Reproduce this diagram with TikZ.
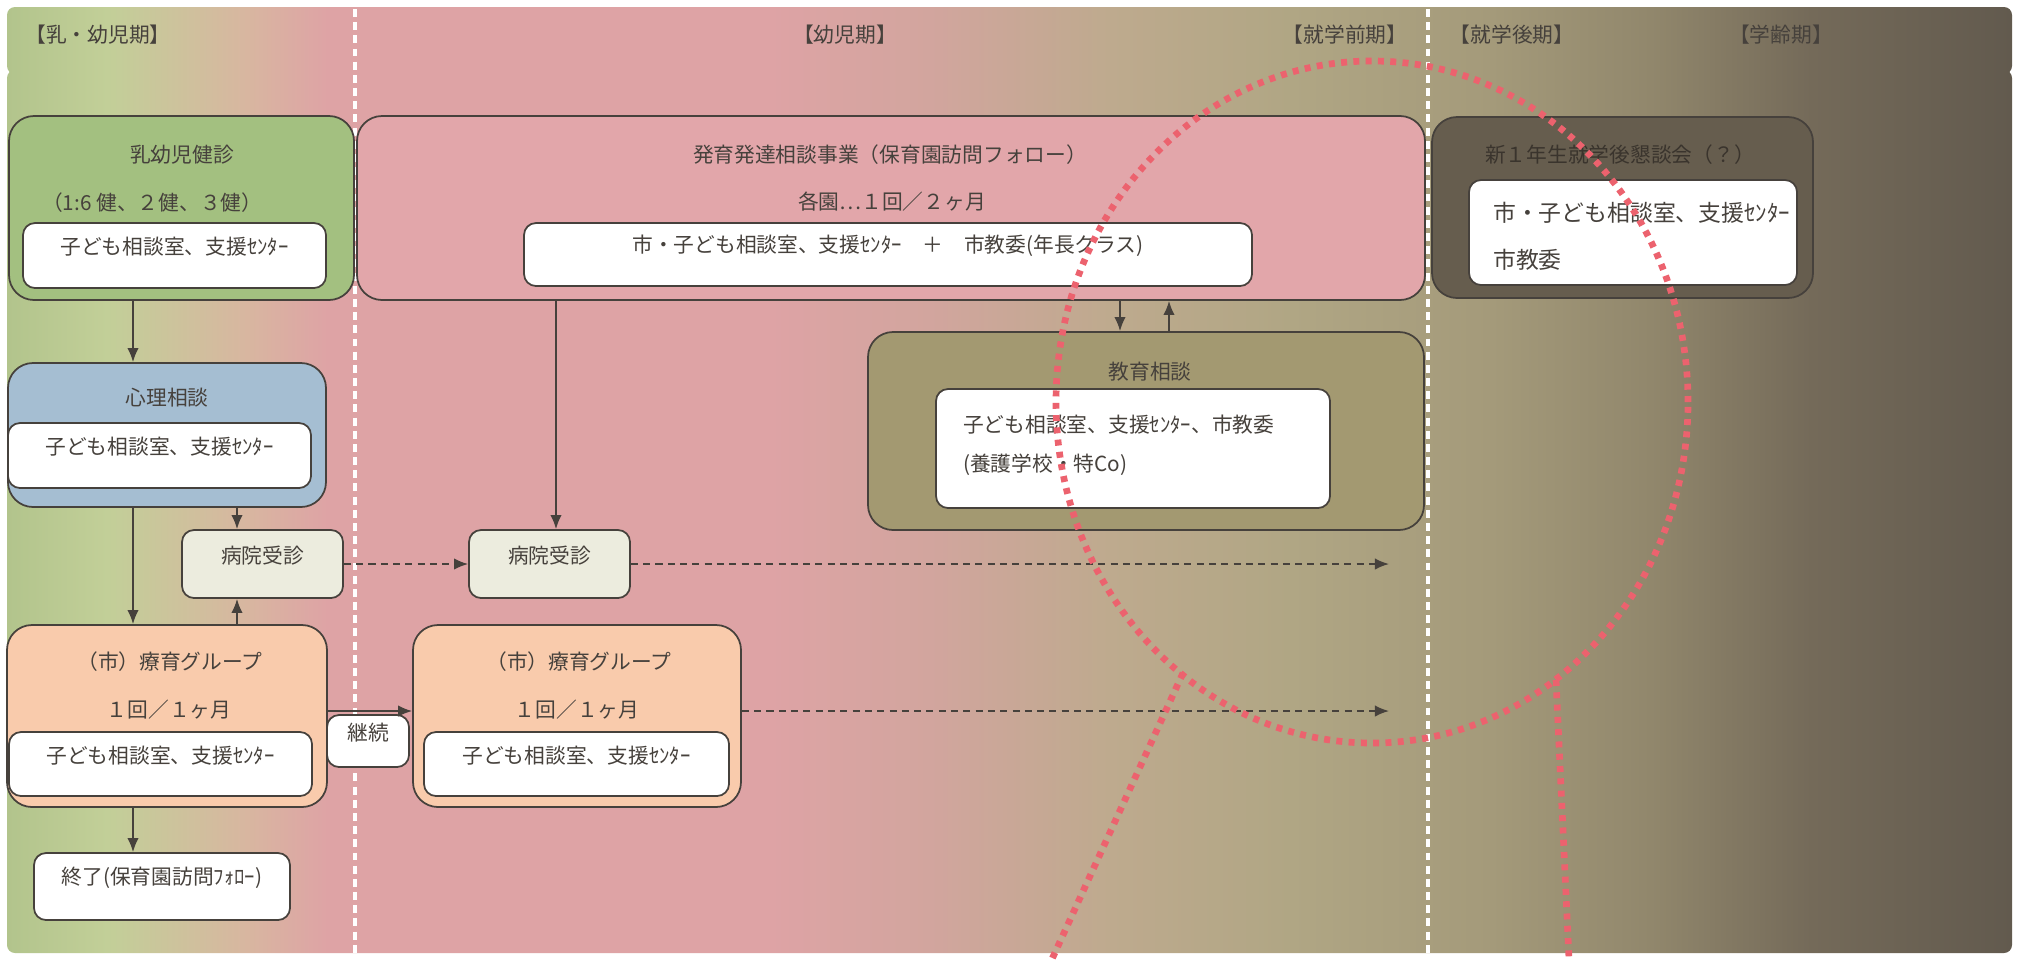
\documentclass[tikz,border=0pt]{standalone}
\usepackage{fontspec}
\setmainfont{Noto Sans CJK JP}
\usetikzlibrary{fit,arrows.meta}

\definecolor{ink}{RGB}{70,65,60}
\definecolor{bgA}{RGB}{178,196,140}
\definecolor{bgB}{RGB}{194,207,152}
\definecolor{bgC}{RGB}{216,182,160}
\definecolor{bgD}{RGB}{222,163,165}
\definecolor{bgE}{RGB}{210,165,158}
\definecolor{bgF}{RGB}{190,170,142}
\definecolor{bgG}{RGB}{176,166,132}
\definecolor{bgH}{RGB}{164,154,122}
\definecolor{bgI}{RGB}{145,135,108}
\definecolor{bgJ}{RGB}{116,106,89}
\definecolor{bgK}{RGB}{98,90,78}
\definecolor{kenshinfill}{RGB}{163,192,128}
\definecolor{hattatsufill}{RGB}{226,166,170}
\definecolor{shugakufill}{RGB}{102,93,78}
\definecolor{shugakutext}{RGB}{58,52,45}
\definecolor{kyoikufill}{RGB}{163,153,113}
\definecolor{shinrifill}{RGB}{165,190,210}
\definecolor{ryoikufill}{RGB}{249,203,172}
\definecolor{byoinfill}{RGB}{236,236,222}
\definecolor{redmk}{RGB}{236,98,110}

\pgfdeclarehorizontalshading{bgshade}{100bp}{color(0bp)=(bgA); color(25bp)=(bgA); color(27.5bp)=(bgB); color(31bp)=(bgC); color(33bp)=(bgD); color(44bp)=(bgD); color(48bp)=(bgE); color(52.5bp)=(bgF); color(57bp)=(bgG); color(62bp)=(bgH); color(66bp)=(bgI); color(70bp)=(bgJ); color(75bp)=(bgK); color(100bp)=(bgK)}

\begin{document}
\begin{tikzpicture}[x=0.2mm, y=-0.2mm,
  every node/.style={font=\fontsize{11.8pt}{14pt}\selectfont, text=ink},
  panel/.style={draw=ink, line width=1pt, rounded corners=5mm, inner sep=0pt},
  inbox/.style={panel, fill=white, rounded corners=2.4mm},
  arr/.style={-{Latex[length=8pt,width=6.5pt]}, draw=ink, line width=1pt},
  darr/.style={arr, dash pattern=on 4pt off 3pt},
  sep/.style={white, line width=2.6pt, dash pattern=on 4.5pt off 3pt},
  redmark/.style={draw=redmk, line width=3.8pt, dash pattern=on 3.4pt off 3.6pt}]

\useasboundingbox (0,0) rectangle (2025,959);
\fill[white] (0,0) rectangle (2025,959);
\shade[shading=bgshade, rounded corners=1.6mm] (7,7) rectangle (2012,74);
\shade[shading=bgshade, rounded corners=1.6mm] (7,70) rectangle (2012,953);
\foreach \x in {355,1428}
   {
	\draw[sep] (\x,9) -- (\x,953);
   };

\node (hd1) at (98,35) {【乳・幼児期】};
\node (hd2) at (845,35) {【幼児期】};
\node (hd3) at (1345,35) {【就学前期】};
\node (hd4) at (1512,35) {【就学後期】};
\node (hd5) at (1781,35) {【学齢期】};

\node[panel, fill=kenshinfill, fit={(9,116) (354,300)}] (kenshin) {};
\node[panel, fill=hattatsufill, fit={(357,116) (1425,300)}] (hattatsu) {};
\node[panel, fill=shugakufill, fit={(1432,117) (1813,298)}] (shugaku) {};
\node[panel, fill=kyoikufill, fit={(868,332) (1424,530)}] (kyoiku) {};
\node[panel, fill=shinrifill, fit={(8,363) (326,507)}] (shinri) {};
\node[panel, fill=ryoikufill, fit={(7,625) (327,807)}] (ryoikuA) {};
\node[panel, fill=ryoikufill, fit={(413,625) (741,807)}] (ryoikuB) {};

\node[inbox, fill=byoinfill, fit={(182,530) (343,598)}] (byoinA) {病院受診};
\node[inbox, fill=byoinfill, fit={(469,530) (630,598)}] (byoinB) {病院受診};
\node[inbox, fit={(327,715) (409,767)}] (keizoku) {継続};
\node[inbox, fit={(34,853) (290,920)}] (shuryo) {終了(保育園訪問ﾌｫﾛｰ)};

\node[inbox, fit={(23,223) (326,288)}] (kenshinIn) {子ども相談室、支援ｾﾝﾀｰ};
\node[inbox, fit={(524,223) (1252,286)}] (hattatsuIn) {市・子ども相談室、支援ｾﾝﾀｰ　＋　市教委(年長クラス)};
\node[inbox, fit={(1469,180) (1797,285)}] (shugakuIn) {};
\node[inbox, fit={(936,389) (1330,508)}] (kyoikuIn) {};
\node[inbox, fit={(8,423) (311,488)}] (shinriIn) {子ども相談室、支援ｾﾝﾀｰ};
\node[inbox, fit={(9,732) (312,796)}] (ryoikuAIn) {子ども相談室、支援ｾﾝﾀｰ};
\node[inbox, fit={(424,732) (729,796)}] (ryoikuBIn) {子ども相談室、支援ｾﾝﾀｰ};

\node (kenshinT) at (182,155) {乳幼児健診};
\node[anchor=west] (kenshinS) at (36,203) {（1:6 健、２健、３健）};
\node (hattatsuT) at (890,155) {発育発達相談事業（保育園訪問フォロー）};
\node (hattatsuS) at (892,202) {各園…１回／２ヶ月};
\node[text=shugakutext] (shugakuT) at (1620,155) {新１年生就学後懇談会（？）};
\node[anchor=west, font=\fontsize{13pt}{15pt}\selectfont] (shugakuA) at (1487,213) {市・子ども相談室、支援ｾﾝﾀｰ};
\node[anchor=west, font=\fontsize{13pt}{15pt}\selectfont] (shugakuB) at (1487,260) {市教委};
\node (kyoikuT) at (1150,372) {教育相談};
\node[anchor=west] (kyoikuA) at (957,425) {子ども相談室、支援ｾﾝﾀｰ、市教委};
\node[anchor=west] (kyoikuB) at (957,465) {(養護学校・特Co)};
\node (shinriT) at (167,398) {心理相談};
\node (ryoikuAT) at (170,662) {（市）療育グループ};
\node (ryoikuAS) at (169,710) {１回／１ヶ月};
\node (ryoikuBT) at (579,662) {（市）療育グループ};
\node (ryoikuBS) at (577,710) {１回／１ヶ月};

\coordinate (colA) at (133,0);
\coordinate (colB) at (237,0);
\coordinate (colC) at (556,0);
\coordinate (colD) at (1120,0);
\coordinate (colE) at (1169,0);
\coordinate (rowB) at (0,711);
\coordinate (endA) at (1389,564);
\coordinate (endB) at (1389,711);

\draw[arr] (kenshin.south -| colA) -- (shinri.north -| colA);
\draw[arr] (shinri.south -| colA) -- (ryoikuA.north -| colA);
\draw[arr] (ryoikuA.south -| colA) -- (shuryo.north -| colA);
\draw[arr] (shinri.south -| colB) -- (byoinA.north -| colB);
\draw[arr] (ryoikuA.north -| colB) -- (byoinA.south -| colB);
\draw[arr] (hattatsu.south -| colC) -- (byoinB.north -| colC);
\draw[arr] (hattatsu.south -| colD) -- (kyoiku.north -| colD);
\draw[arr] (kyoiku.north -| colE) -- (hattatsu.south -| colE);
\draw[arr] (ryoikuA.east |- rowB) -- (ryoikuB.west |- rowB);
\draw[darr] (byoinA.east) -- (byoinB.west);
\draw[darr] (byoinB.east) -- (endA);
\draw[darr] (ryoikuB.east |- rowB) -- (endB);

\coordinate (ringC) at (1372,402);
\coordinate (tailL) at (1183,673);
\coordinate (footL) at (1052,959);
\coordinate (tailR) at (1556,680);
\coordinate (footR) at (1569,959);
\draw[redmark] (ringC) ellipse [x radius=63.2mm, y radius=68.2mm];
\draw[redmark] (tailL) -- (footL);
\draw[redmark] (tailR) -- (footR);
\end{tikzpicture}
\end{document}
